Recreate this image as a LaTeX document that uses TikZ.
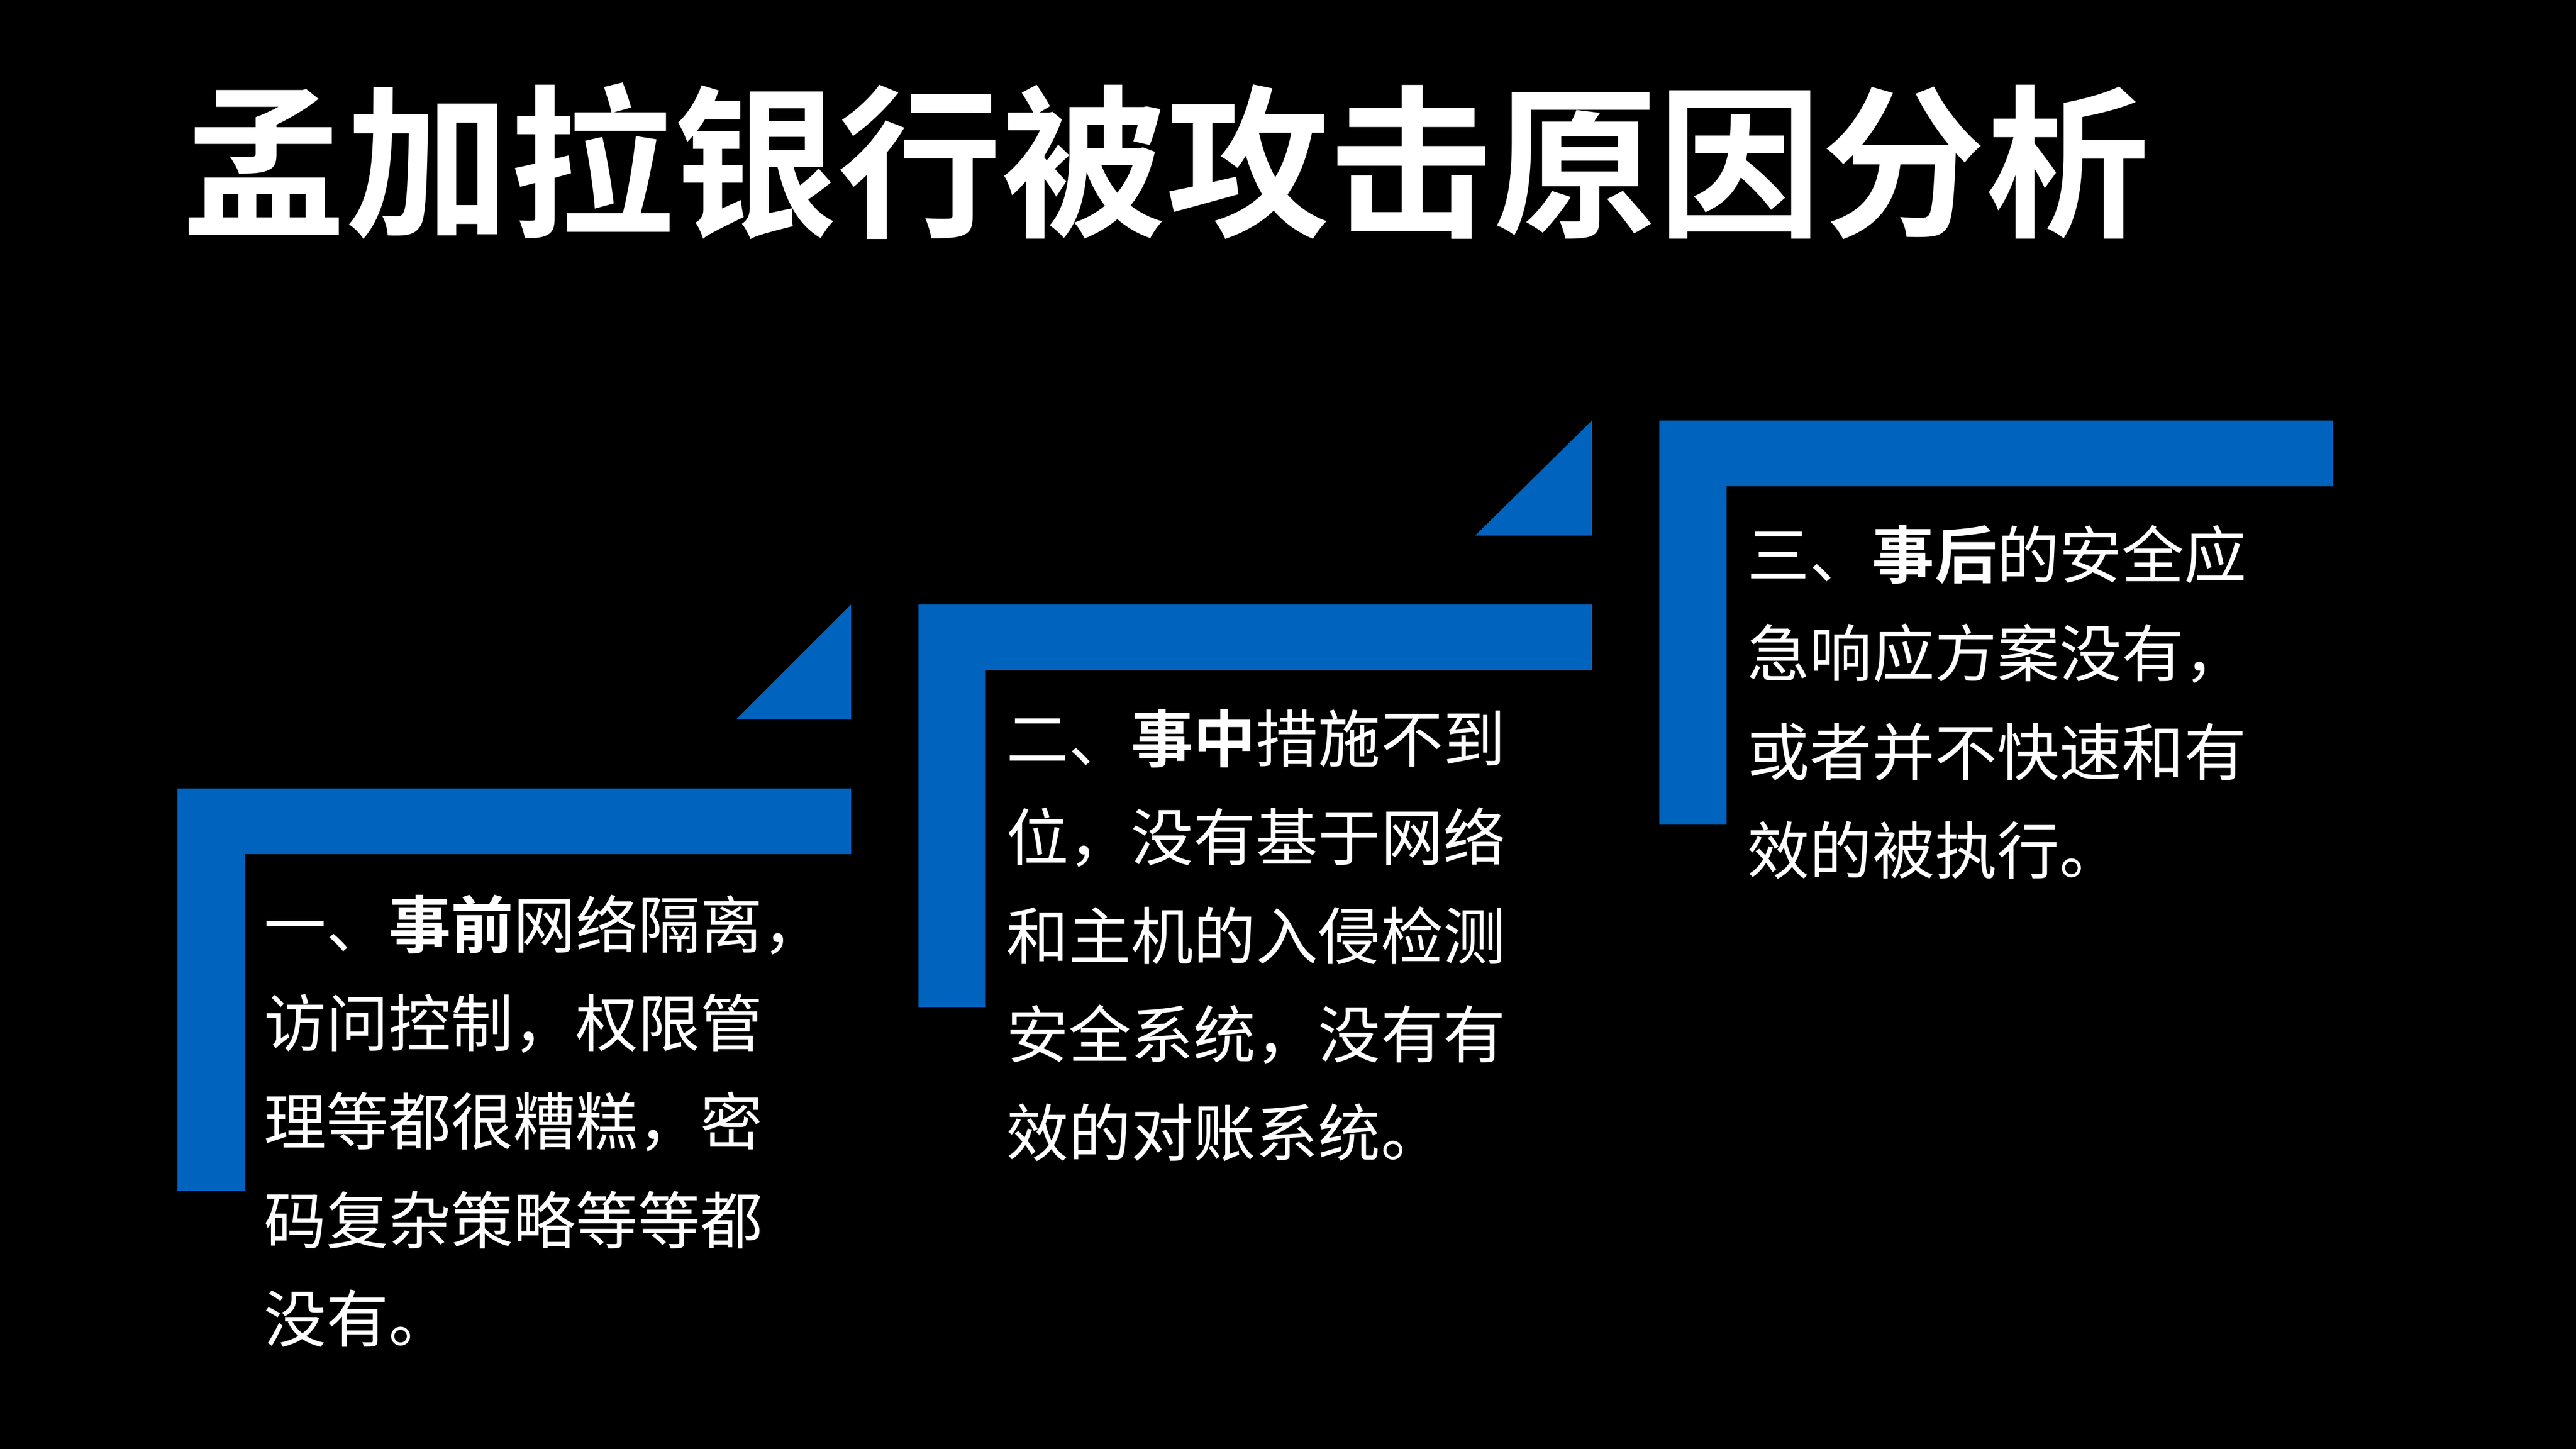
\documentclass[tikz,border=0pt]{standalone}
\usepackage{fontspec}
\newfontfamily\cjk{Noto Sans CJK SC}
\newfontfamily\cjkb{Noto Sans CJK SC Bold}
\definecolor{blu}{HTML}{0063BE}
\begin{document}
\begin{tikzpicture}[x=0.1mm,y=-0.1mm,
  body/.style={anchor=north west,inner sep=0pt,text=white,font=\cjk\fontsize{10.8pt}{17.07pt}\selectfont,align=left},
  bar/.style={fill=blu,draw=none}]
\fill[black] (0,0) rectangle (1568,882);
\useasboundingbox (0,0) rectangle (1568,882);
\node[anchor=west,inner sep=0pt,text=white,font=\cjkb\fontsize{28.4pt}{30pt}\selectfont] (title) at (110,98) {孟加拉银行被攻击原因分析};
% step 1
\fill[bar] (108,480) -- (518,480) -- (518,520) -- (149,520) -- (149,725) -- (108,725) -- cycle;
\fill[bar] (448,438) -- (518,438) -- (518,368) -- cycle;
% step 2
\fill[bar] (559,368) -- (969,368) -- (969,408) -- (600,408) -- (600,613) -- (559,613) -- cycle;
\fill[bar] (898,326) -- (969,326) -- (969,256) -- cycle;
% step 3
\fill[bar] (1010,256) -- (1420,256) -- (1420,296) -- (1051,296) -- (1051,502) -- (1010,502) -- cycle;
\node[body] (t1) at (160,544) {一、{\cjkb 事前}网络隔离，\\访问控制，权限管\\理等都很糟糕，密\\码复杂策略等等都\\没有。};
\node[body] (t2) at (612,431) {二、{\cjkb 事中}措施不到\\位，没有基于网络\\和主机的入侵检测\\安全系统，没有有\\效的对账系统。};
\node[body] (t3) at (1063,319) {三、{\cjkb 事后}的安全应\\急响应方案没有，\\或者并不快速和有\\效的被执行。};
\end{tikzpicture}
\end{document}
